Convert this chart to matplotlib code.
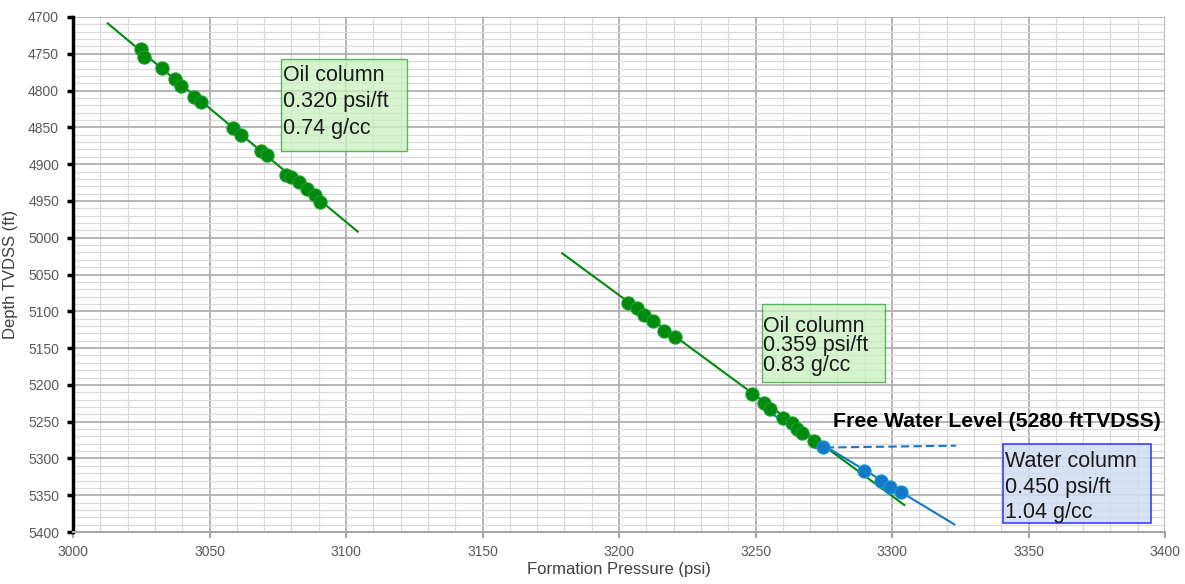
import numpy as np
import matplotlib.pyplot as plt
from matplotlib.patches import Rectangle

plt.rcParams['font.family'] = ['Liberation Sans', 'DejaVu Sans']

# upper oil leg (pressure psi, depth ft TVDSS)
oil1_p = [3024.8, 3026.1, 3032.5, 3037.3, 3039.7, 3044.2, 3047.0, 3058.7, 3061.6,
          3068.9, 3071.0, 3077.9, 3080.0, 3082.8, 3085.6, 3088.5, 3090.5]
oil1_d = [4743.9, 4754.8, 4769.7, 4784.7, 4793.8, 4809.1, 4815.5, 4850.9, 4860.0,
          4882.5, 4887.2, 4914.4, 4917.9, 4923.9, 4934.2, 4942.0, 4951.5]

# lower oil leg
oil2_p = [3203.3, 3206.7, 3209.2, 3212.5, 3216.6, 3220.5,
          3248.6, 3253.0, 3255.3, 3260.2, 3263.3, 3265.3, 3266.9, 3271.5]
oil2_d = [5088.3, 5095.5, 5105.5, 5112.8, 5126.8, 5135.0,
          5212.8, 5224.3, 5233.3, 5245.5, 5252.3, 5260.4, 5265.9, 5276.3]

# water leg
wat_p = [3274.8, 3289.7, 3296.0, 3299.3, 3303.3]
wat_d = [5284.1, 5316.7, 5331.1, 5339.3, 5345.6]

# gradient trend lines
oil1_line_p = [3012.7, 3104.3]
oil1_line_d = [4708.6, 4991.8]
oil2_line_p = [3179.2, 3304.5]
oil2_line_d = [5021.2, 5363.3]
wat_line_p = [3251.6, 3322.8]
wat_line_d = [5229.7, 5389.6]
fwl_p = [3271.2, 3323.4]
fwl_d = [5285.4, 5282.7]

green = '#008a0e'
blue = '#1478c8'

fig = plt.figure(figsize=(11.85, 5.84), dpi=100)
ax = fig.add_axes([73 / 1185, 52 / 584, 1092 / 1185, 515 / 584])

ax.set_xlim(3000, 3400)
ax.set_ylim(5400, 4700)
ax.set_xticks(np.arange(3000, 3401, 50))
ax.set_yticks(np.arange(4700, 5401, 50))
ax.set_xticks(np.arange(3000, 3401, 10), minor=True)
ax.set_yticks(np.arange(4700, 5401, 10), minor=True)
ax.grid(which='major', color='#b0b0b0', lw=1.3, zorder=0)
ax.grid(which='minor', color='#dadada', lw=0.9, zorder=0)
ax.set_axisbelow(True)

ax.spines['top'].set_visible(False)
ax.spines['right'].set_visible(False)
ax.spines['left'].set_color('black')
ax.spines['left'].set_linewidth(2.5)
ax.spines['bottom'].set_color('#a6a6a6')
ax.spines['bottom'].set_linewidth(1.5)
ax.tick_params(axis='y', which='major', length=4, width=2.5, color='black',
               labelsize=10, labelcolor='#595959', pad=6)
ax.tick_params(axis='x', which='major', length=4, width=1.5, color='#a6a6a6',
               labelsize=10, labelcolor='#595959', pad=5)
ax.tick_params(which='minor', length=0)

ax.set_xlabel('Formation Pressure (psi)', fontsize=12, color='#404040')
ax.set_ylabel('Depth TVDSS (ft)', fontsize=12, color='#404040')
ax.xaxis.set_label_coords(0.5, -0.058)
ax.yaxis.set_label_coords(-0.050, 0.5)

# trend lines
ax.plot(oil1_line_p, oil1_line_d, color=green, lw=1.5, zorder=3)
ax.plot(oil2_line_p, oil2_line_d, color=green, lw=1.5, zorder=3)
ax.plot(wat_line_p, wat_line_d, color=blue, lw=1.5, zorder=3)
ax.plot(fwl_p, fwl_d, color=blue, lw=1.5, ls='--', dashes=(4, 2), zorder=3)

# pressure points
ax.plot(oil1_p, oil1_d, 'o', color=green, ms=9.5, mec='#1aa02a', mew=0.8, zorder=4)
ax.plot(oil2_p, oil2_d, 'o', color=green, ms=9.5, mec='#1aa02a', mew=0.8, zorder=4)
ax.plot(wat_p, wat_d, 'o', color=blue, ms=9.5, mec='#1a9ad0', mew=0.8, zorder=5)

# annotation boxes
ax.add_patch(Rectangle((3076.1, 4757.5), 46.4, 124.6, facecolor='#c9f2c0', alpha=0.75,
                       edgecolor='#2e9e2e', lw=1.0, zorder=6))
ax.text(3076.9, 4815.5, 'Oil column\n0.320 psi/ft\n0.74 g/cc', fontsize=15.5,
        va='center', ha='left', linespacing=1.32, color='#1a1a1a', zorder=7)

ax.add_patch(Rectangle((3252.3, 5090.1), 45.1, 105.6, facecolor='#c9f2c0', alpha=0.75,
                       edgecolor='#2e9e2e', lw=1.0, zorder=6))
ax.text(3252.7, 5147.0, 'Oil column\n0.359 psi/ft\n0.83 g/cc', fontsize=15.5,
        va='center', ha='left', linespacing=0.92, color='#1a1a1a', zorder=7)

ax.add_patch(Rectangle((3340.5, 5280.8), 54.4, 106.6, facecolor='#d0ddf2', alpha=0.85,
                       edgecolor='#1f1fff', lw=1.2, zorder=6))
ax.text(3341.4, 5339.0, 'Water column\n0.450 psi/ft\n1.04 g/cc', fontsize=15.5,
        va='center', ha='left', linespacing=1.3, color='#1a1a1a', zorder=7)

ax.text(3338.5, 5250.1, 'Free Water Level (5280 ftTVDSS)', fontsize=15.3,
        fontweight='bold', ha='center', va='center', color='black', zorder=7)

plt.savefig('out.png', dpi=100)
plt.close()
